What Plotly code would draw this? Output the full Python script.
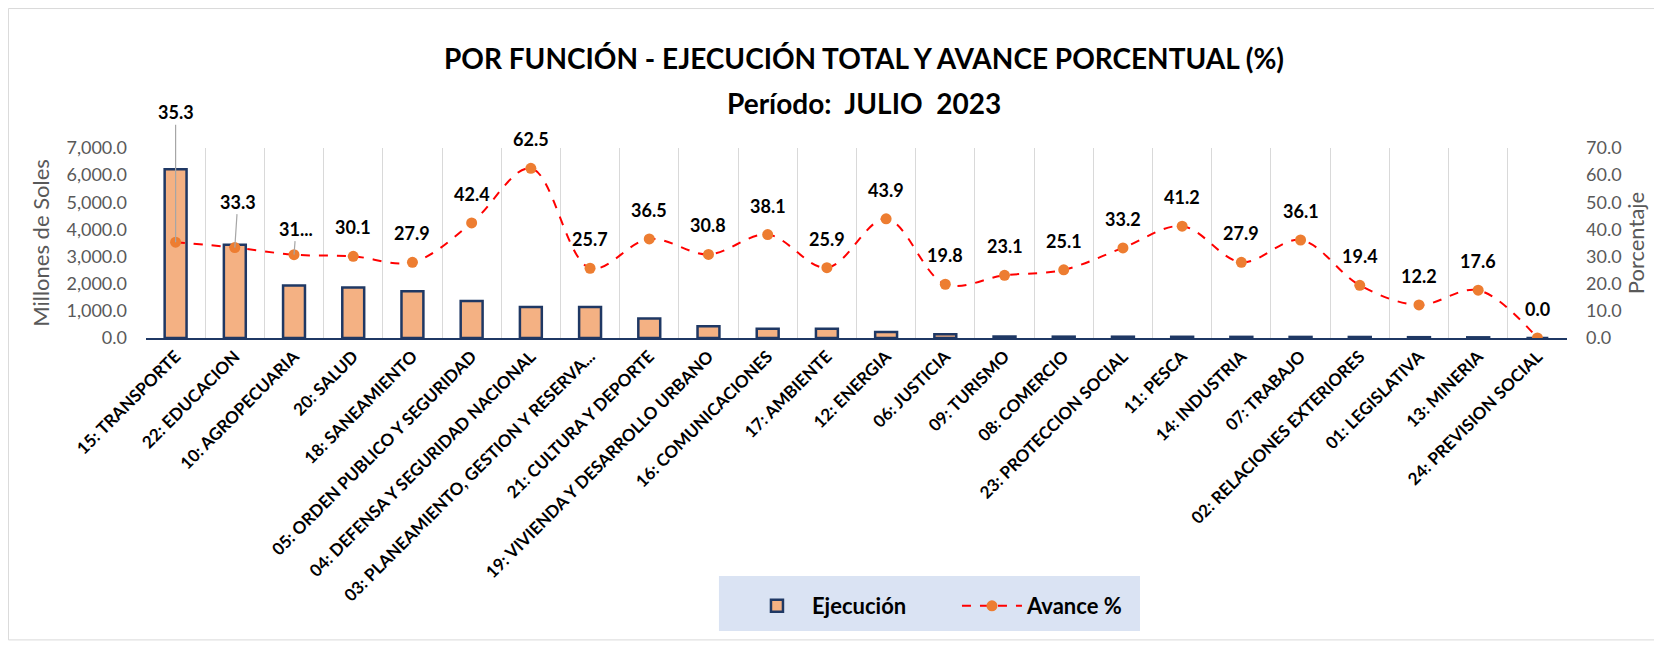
import plotly.graph_objects as go

# ── Datos ─────────────────────────────────────────────────────────────────────
funciones = [
    "15: TRANSPORTE", "22: EDUCACION", "10: AGROPECUARIA", "20: SALUD",
    "18: SANEAMIENTO", "05: ORDEN PUBLICO Y SEGURIDAD",
    "04: DEFENSA Y SEGURIDAD NACIONAL", "03: PLANEAMIENTO, GESTION Y RESERVA...",
    "21: CULTURA Y DEPORTE", "19: VIVIENDA Y DESARROLLO URBANO",
    "16: COMUNICACIONES", "17: AMBIENTE", "12: ENERGIA", "06: JUSTICIA",
    "09: TURISMO", "08: COMERCIO", "23: PROTECCION SOCIAL", "11: PESCA",
    "14: INDUSTRIA", "07: TRABAJO", "02: RELACIONES EXTERIORES",
    "01: LEGISLATIVA", "13: MINERIA", "24: PREVISION SOCIAL",
]
ejecucion = [6220, 3440, 1930, 1860, 1720, 1365, 1145, 1140, 715, 430, 345, 345,
             220, 135, 55, 50, 48, 45, 42, 40, 38, 30, 25, 0]
avance = [35.3, 33.3, 30.7, 30.1, 27.9, 42.4, 62.5, 25.7, 36.5, 30.8, 38.1, 25.9,
          43.9, 19.8, 23.1, 25.1, 33.2, 41.2, 27.9, 36.1, 19.4, 12.2, 17.6, 0.0]
etiquetas = [f"{v:.1f}" for v in avance]
etiquetas[2] = "31..."

FONT = "Lato"
GRIS = "#595959"

fig = go.Figure()
fig.add_trace(go.Bar(
    x=funciones, y=ejecucion, name="Ejecución",
    marker=dict(color="#f4b183", line=dict(color="#1f3864", width=2.5)),
    width=0.37,
))
fig.add_trace(go.Scatter(
    x=funciones, y=avance, name="Avance %", yaxis="y2", mode="lines+markers",
    line=dict(color="#ff0000", width=2, dash="dash", shape="spline", smoothing=1),
    marker=dict(color="#ed7d31", size=11),
))

# etiquetas de datos (las 3 primeras con línea guía)
guias = {0: (0, -130), 1: (3, -46), 2: (2, -26)}
anns = []
for i, (c, v, t) in enumerate(zip(funciones, avance, etiquetas)):
    a = dict(x=c, y=v, xref="x", yref="y2", text=f"<b>{t}</b>",
             font=dict(family=FONT, size=18, color="#000"))
    if i in guias:
        ax, ay = guias[i]
        a.update(showarrow=True, arrowhead=0, arrowwidth=1.2,
                 arrowcolor="#a6a6a6", ax=ax, ay=ay)
    else:
        a.update(showarrow=False, yshift=29)
    anns.append(a)

# título
for yy, txt in [(1.474, "POR FUNCIÓN - EJECUCIÓN TOTAL Y AVANCE PORCENTUAL (%)"),
                (1.237, "Período:  JULIO  2023")]:
    anns.append(dict(x=0.505, y=yy, xref="paper", yref="paper", showarrow=False,
                     xanchor="center", yanchor="middle", text=f"<b>{txt}</b>",
                     font=dict(family=FONT, size=28, color="#000")))

fig.update_layout(
    width=1654, height=638,
    margin=dict(l=138, r=95, t=140, b=308),
    paper_bgcolor="white", plot_bgcolor="white",
    font=dict(family=FONT, color=GRIS),
    annotations=anns,
    showlegend=True,
    legend=dict(orientation="h", x=0.4194, xanchor="left", y=-1.30, yanchor="top",
                bgcolor="rgba(0,0,0,0)", borderwidth=0,
                font=dict(family=FONT, size=22, color="#000", weight="bold"),
                itemwidth=60, entrywidth=140),
    xaxis=dict(
        type="category", range=[-0.5, len(funciones) - 0.5],
        tickson="boundaries", showgrid=True, gridcolor="#d9d9d9",
        ticks="", tickangle=-45, showline=True, linecolor="#1f3864", linewidth=2,
        tickfont=dict(family=FONT, size=17, color="#000", weight="bold"),
    ),
    yaxis=dict(
        range=[0, 7000], dtick=1000, tickformat=",.1f", showgrid=False,
        zeroline=False, ticklabelstandoff=18,
        tickfont=dict(family=FONT, size=18, color=GRIS),
        title=dict(text="Millones de Soles", standoff=10,
                   font=dict(family=FONT, size=22, color=GRIS)),
    ),
    yaxis2=dict(
        range=[0, 70], dtick=10, tickformat=".1f", overlaying="y", side="right",
        showgrid=False, zeroline=False, ticklabelstandoff=18,
        tickfont=dict(family=FONT, size=18, color=GRIS),
        title=dict(text="Porcentaje", standoff=8,
                   font=dict(family=FONT, size=22, color=GRIS)),
    ),
    shapes=[
        dict(type="rect", xref="paper", yref="paper",
             x0=-0.0968, x1=1.0619, y0=-1.589, y1=1.734,
             line=dict(color="#d9d9d9", width=1), layer="below"),
        dict(type="rect", xref="paper", yref="paper",
             x0=0.4032, x1=0.6995, y0=-1.5421, y1=-1.2526,
             fillcolor="#dae3f3", line=dict(width=0), layer="below"),
    ],
)

fig.write_html("out.html")
